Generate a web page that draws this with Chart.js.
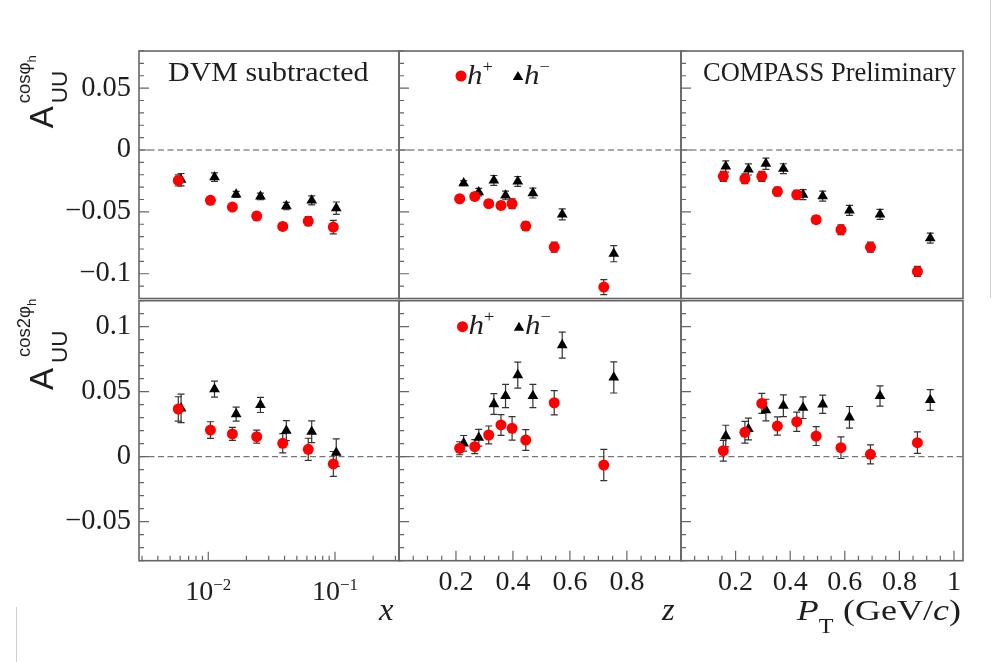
<!DOCTYPE html>
<html><head><meta charset="utf-8">
<script src="https://cdn.jsdelivr.net/npm/chart.js@4.4.1/dist/chart.umd.min.js"></script>
<style>
html,body{margin:0;padding:0;background:#fff;}
#wrap{position:relative;width:992px;height:662px;overflow:hidden;background:#fff;}
#wrap canvas{position:absolute;left:0;top:0;}
.deco{position:absolute;background:#cfcfcf;width:1px;}
</style></head><body>
<div id="wrap">
<div class="deco" style="left:990px;top:0px;height:298px;"></div>
<div class="deco" style="left:16px;top:607px;height:55px;"></div>
<canvas id="c0" width="992" height="662"></canvas>
<canvas id="c1" width="992" height="662"></canvas>
<canvas id="c2" width="992" height="662"></canvas>
<canvas id="c3" width="992" height="662"></canvas>
<canvas id="c4" width="992" height="662"></canvas>
<canvas id="c5" width="992" height="662"></canvas>
</div>
<script>
// ---------------- tick labels ----------------
const yTicksTop = [-0.1, -0.05, 0, 0.05];
const yTicksBottom = [-0.05, 0, 0.05, 0.1];
const xTicks = [0.01, 0.1];
const zTicks = [0.2, 0.4, 0.6, 0.8];
const ptTicks = [0.2, 0.4, 0.6, 0.8, 1];

// ---------------- bin centres ----------------
const xHp = [0.0058, 0.0104, 0.0155, 0.0241, 0.0387, 0.0615, 0.097];
const xHm = [0.0061, 0.0112, 0.0166, 0.0258, 0.0413, 0.0655, 0.1023];
const zHp = [0.213, 0.266, 0.315, 0.358, 0.397, 0.445, 0.545, 0.719];
const zHm = [0.227, 0.280, 0.333, 0.374, 0.417, 0.470, 0.573, 0.754];
const ptHp = [0.155, 0.234, 0.296, 0.353, 0.424, 0.495, 0.586, 0.694, 0.866];
const ptHm = [0.164, 0.247, 0.311, 0.375, 0.447, 0.519, 0.617, 0.729, 0.913];

// ---------------- A_UU^{cos phi_h} ----------------
const cosPhiX_hp     = [-0.0246, -0.0407, -0.0461, -0.0534, -0.0618, -0.0575, -0.0623];
const cosPhiX_hpErr  = [0.0045, 0.002, 0.002, 0.003, 0.003, 0.0036, 0.0055];
const cosPhiX_hm     = [-0.024, -0.0219, -0.0359, -0.0375, -0.0453, -0.0407, -0.047];
const cosPhiX_hmErr  = [0.005, 0.0034, 0.0024, 0.0027, 0.003, 0.0036, 0.005];
const cosPhiZ_hp     = [-0.0394, -0.0375, -0.0434, -0.0448, -0.0434, -0.0615, -0.0785, -0.1108];
const cosPhiZ_hpErr  = [0.002, 0.003, 0.003, 0.003, 0.004, 0.0035, 0.004, 0.006];
const cosPhiZ_hm     = [-0.0268, -0.034, -0.0246, -0.0367, -0.0254, -0.0348, -0.052, -0.0838];
const cosPhiZ_hmErr  = [0.002, 0.003, 0.004, 0.0035, 0.004, 0.004, 0.0045, 0.0065];
const cosPhiPt_hp    = [-0.0213, -0.0232, -0.0213, -0.0335, -0.0361, -0.0563, -0.0644, -0.0785, -0.0981];
const cosPhiPt_hpErr = [0.004, 0.004, 0.004, 0.0035, 0.0035, 0.003, 0.004, 0.004, 0.004];
const cosPhiPt_hm    = [-0.0133, -0.0157, -0.0111, -0.0151, -0.0361, -0.0373, -0.0488, -0.052, -0.0712];
const cosPhiPt_hmErr = [0.0045, 0.0045, 0.0045, 0.004, 0.004, 0.004, 0.004, 0.004, 0.004];

// ---------------- A_UU^{cos 2phi_h} ----------------
const cos2PhiX_hp     = [0.0367, 0.0205, 0.0175, 0.0154, 0.0103, 0.0057, -0.0056];
const cos2PhiX_hpErr  = [0.0094, 0.0064, 0.005, 0.005, 0.0074, 0.0085, 0.0096];
const cos2PhiX_hm     = [0.0372, 0.052, 0.0328, 0.0398, 0.020, 0.0192, 0.0031];
const cos2PhiX_hmErr  = [0.011, 0.0062, 0.0054, 0.0058, 0.0077, 0.0083, 0.0106];
const cos2PhiZ_hp     = [0.0065, 0.0077, 0.0167, 0.0244, 0.0218, 0.0128, 0.0415, -0.0064];
const cos2PhiZ_hpErr  = [0.005, 0.0054, 0.0069, 0.008, 0.009, 0.008, 0.0094, 0.012];
const cos2PhiZ_hm     = [0.0103, 0.0146, 0.0405, 0.0467, 0.0628, 0.0467, 0.0859, 0.061];
const cos2PhiZ_hmErr  = [0.006, 0.0064, 0.008, 0.009, 0.010, 0.009, 0.010, 0.012];
const cos2PhiPt_hp    = [0.0046, 0.0188, 0.041, 0.0236, 0.0269, 0.0159, 0.0069, 0.0018, 0.0108];
const cos2PhiPt_hpErr = [0.008, 0.0083, 0.0077, 0.007, 0.0074, 0.0073, 0.0083, 0.0073, 0.0083];
const cos2PhiPt_hm    = [0.0159, 0.0213, 0.0359, 0.0392, 0.0377, 0.0403, 0.0303, 0.0467, 0.0436];
const cos2PhiPt_hmErr = [0.0083, 0.0083, 0.0083, 0.0083, 0.0083, 0.007, 0.0083, 0.0078, 0.008];

// ---------------- layout (pixels) ----------------
const COLS = [{l:139, r:399}, {l:399, r:681}, {l:681, r:963}];
const ROWS = [{t:51, b:298.5}, {t:300.7, b:560.7}];
const SERIF = '"Liberation Serif", "Times New Roman", serif';
const SANS = '"Liberation Sans", Arial, sans-serif';
const INK = '#1e1e1e';

const XAXES = [
  {type:'logarithmic', min:0.00284, max:0.32, ticks:xTicks, minor:'log'},
  {type:'linear', min:0.0, max:0.99, ticks:zTicks, minor:0.05},
  {type:'linear', min:0.0, max:1.033, ticks:ptTicks, minor:0.05}
];
const YAXES = [
  {min:-0.12, max:0.08, ticks:yTicksTop},
  {min:-0.08, max:0.12, ticks:yTicksBottom}
];

const panels = [
  {row:0,col:0, hpX:xHp, hmX:xHm, hp:cosPhiX_hp, hpE:cosPhiX_hpErr, hm:cosPhiX_hm, hmE:cosPhiX_hmErr},
  {row:0,col:1, hpX:zHp, hmX:zHm, hp:cosPhiZ_hp, hpE:cosPhiZ_hpErr, hm:cosPhiZ_hm, hmE:cosPhiZ_hmErr},
  {row:0,col:2, hpX:ptHp, hmX:ptHm, hp:cosPhiPt_hp, hpE:cosPhiPt_hpErr, hm:cosPhiPt_hm, hmE:cosPhiPt_hmErr},
  {row:1,col:0, hpX:xHp, hmX:xHm, hp:cos2PhiX_hp, hpE:cos2PhiX_hpErr, hm:cos2PhiX_hm, hmE:cos2PhiX_hmErr},
  {row:1,col:1, hpX:zHp, hmX:zHm, hp:cos2PhiZ_hp, hpE:cos2PhiZ_hpErr, hm:cos2PhiZ_hm, hmE:cos2PhiZ_hmErr},
  {row:1,col:2, hpX:ptHp, hmX:ptHm, hp:cos2PhiPt_hp, hpE:cos2PhiPt_hpErr, hm:cos2PhiPt_hm, hmE:cos2PhiPt_hmErr}
];

function minus(v){ return v < 0 ? '\u2212' + String(-v) : String(v); }

// draw a run of text parts; sx = horizontal stretch
function drawRich(ctx, parts, x, y, align, sx) {
  sx = sx || 1;
  let w = 0;
  parts.forEach(p => { ctx.font = p.font; p.w = ctx.measureText(p.t).width; w += p.w + (p.gap||0); });
  w *= sx;
  let x0 = align === 'center' ? x - w/2 : (align === 'right' ? x - w : x);
  ctx.save();
  ctx.translate(x0, y); ctx.scale(sx, 1);
  ctx.textAlign = 'left';
  let cx = 0;
  parts.forEach(p => { ctx.font = p.font; ctx.fillText(p.t, cx, (p.dy||0)); cx += p.w + (p.gap||0); });
  ctx.restore();
}

function drawTriangle(ctx, x, y, r) {
  ctx.beginPath();
  ctx.moveTo(x, y - r);
  ctx.lineTo(x + 0.866*r, y + 0.5*r);
  ctx.lineTo(x - 0.866*r, y + 0.5*r);
  ctx.closePath(); ctx.fill();
}

function drawLegend(ctx, cy, xc, xt) {
  ctx.fillStyle = '#ff0000';
  ctx.beginPath(); ctx.arc(xc, cy, 5.5, 0, Math.PI*2); ctx.fill();
  ctx.fillStyle = INK; ctx.textBaseline = 'alphabetic';
  drawRich(ctx, [{t:'h', font:'italic 27px '+SERIF}, {t:'+', font:'16px '+SERIF, dy:-12, gap:0}], xc+6, cy+7.5, 'left', 1.15);
  ctx.fillStyle = '#000';
  drawTriangle(ctx, xt, cy+1, 6);
  ctx.fillStyle = INK;
  drawRich(ctx, [{t:'h', font:'italic 27px '+SERIF}, {t:'\u2212', font:'16px '+SERIF, dy:-12}], xt+6, cy+7.5, 'left', 1.15);
}

function drawYTitle(ctx, startY, supText, uuOff, supOff) {
  ctx.save();
  ctx.beginPath(); ctx.rect(17, 0, 110, 662); ctx.clip();
  ctx.translate(53, startY); ctx.rotate(-Math.PI/2);
  ctx.fillStyle = INK; ctx.textAlign = 'left'; ctx.textBaseline = 'alphabetic';
  ctx.font = '33px ' + SANS; ctx.fillText('A', 0, 0);
  ctx.font = '22.5px ' + SANS; ctx.fillText('UU', uuOff, 14);
  ctx.font = '18.5px ' + SANS;
  ctx.fillText(supText, supOff, -23);
  const w = ctx.measureText(supText).width;
  ctx.font = '13px ' + SANS; ctx.fillText('h', supOff + w, -17);
  ctx.restore();
}

const deco = {
  id: 'panelDeco',
  beforeDatasetsDraw(chart) {
    const ctx = chart.ctx, a = chart.chartArea, xs = chart.scales.x, ys = chart.scales.y;
    ctx.save();
    // dashed zero line
    const y0 = ys.getPixelForValue(0);
    ctx.strokeStyle = '#555'; ctx.lineWidth = 1; ctx.setLineDash([6, 3.5]);
    ctx.beginPath(); ctx.moveTo(a.left, y0); ctx.lineTo(a.right, y0); ctx.stroke();
    ctx.setLineDash([]);
    // error bars
    ctx.strokeStyle = '#333'; ctx.lineWidth = 1.2;
    chart.data.datasets.forEach(ds => {
      ds.data.forEach((pt, i) => {
        const e = ds.errors[i];
        const px = xs.getPixelForValue(pt.x);
        const yt = ys.getPixelForValue(pt.y + e), yb = ys.getPixelForValue(pt.y - e);
        ctx.beginPath();
        ctx.moveTo(px, yt); ctx.lineTo(px, yb);
        ctx.moveTo(px - 3.5, yt); ctx.lineTo(px + 3.5, yt);
        ctx.moveTo(px - 3.5, yb); ctx.lineTo(px + 3.5, yb);
        ctx.stroke();
      });
    });
    ctx.restore();
  },
  afterDraw(chart) {
    const p = chart.config._config.panel;
    const ctx = chart.ctx, a = chart.chartArea, xs = chart.scales.x, ys = chart.scales.y;
    const XA = XAXES[p.col], YA = YAXES[p.row];
    ctx.save();
    ctx.strokeStyle = '#666'; ctx.lineWidth = 1.2;
    // y ticks (inside)
    ctx.beginPath();
    for (let k = Math.ceil(YA.min*100 - 1e-6); k <= Math.floor(YA.max*100 + 1e-6); k++) {
      const v = k/100, py = ys.getPixelForValue(v);
      const len = (k % 5 === 0) ? 10 : 5;
      ctx.moveTo(a.left, py); ctx.lineTo(a.left + len, py);
    }
    // x ticks (bottom row only)
    if (p.row === 1) {
      if (XA.minor === 'log') {
        [0.001, 0.01, 0.1].forEach(d => {
          for (let m = 1; m <= 9; m++) {
            const v = m*d; if (v < XA.min || v > XA.max) continue;
            const px = xs.getPixelForValue(v), len = m === 1 ? 9 : 5;
            ctx.moveTo(px, a.bottom); ctx.lineTo(px, a.bottom - len);
          }
        });
      } else {
        for (let k = 0; k*XA.minor <= XA.max + 1e-9; k++) {
          const v = +(k*XA.minor).toFixed(4); if (v < XA.min) continue;
          const px = xs.getPixelForValue(v);
          const major = XA.ticks.some(t => Math.abs(t - v) < 1e-6) || Math.abs(v) < 1e-9;
          const len = major ? 10 : 5;
          ctx.moveTo(px, a.bottom); ctx.lineTo(px, a.bottom - len);
        }
      }
    }
    ctx.stroke();
    // frame
    ctx.lineWidth = 1.6; ctx.strokeStyle = '#666';
    ctx.strokeRect(a.left, a.top, a.right - a.left, a.bottom - a.top);
    ctx.fillStyle = INK; ctx.textBaseline = 'alphabetic';
    // log tick labels
    if (p.row === 1 && XA.minor === 'log') {
      XA.ticks.forEach(v => {
        const px = xs.getPixelForValue(v);
        const ex = Math.round(Math.log10(v));
        drawRich(ctx, [{t:'10', font:'28px '+SERIF}, {t:minus(ex), font:'17px '+SERIF, dy:-10}], px, 600, 'center');
      });
    }
    // annotations
    if (p.row === 0 && p.col === 0) {
      drawRich(ctx, [{t:'DVM subtracted', font:'28px '+SERIF}], 168, 81, 'left', 1.07);
      drawYTitle(ctx, 128.3, 'cos\u03C6', 25, 25);
    }
    if (p.row === 0 && p.col === 2) {
      drawRich(ctx, [{t:'COMPASS Preliminary', font:'26.5px '+SERIF}], 703, 81, 'left', 1.0);
    }
    if (p.col === 1) {
      if (p.row === 0) drawLegend(ctx, 76, 461, 518);
      else drawLegend(ctx, 326.7, 462.5, 519);
    }
    if (p.row === 1) {
      if (p.col === 0) {
        drawYTitle(ctx, 390, 'cos2\u03C6', 27, 33);
        drawRich(ctx, [{t:'x', font:'italic 31px '+SERIF}], 379, 620, 'left', 1.05);
      }
      if (p.col === 1) {
        drawRich(ctx, [{t:'z', font:'italic 31px '+SERIF}], 662, 620, 'left', 1.05);
      }
      if (p.col === 2) {
        drawRich(ctx, [
          {t:'P', font:'italic 30px '+SERIF},
          {t:'T', font:'20px '+SERIF, dy:13, gap:8},
          {t:'(GeV/', font:'30px '+SERIF},
          {t:'c', font:'italic 30px '+SERIF},
          {t:')', font:'30px '+SERIF}
        ], 961, 620, 'right', 1.2);
      }
    }
    ctx.restore();
  }
};

const YW = 80, XH = 70;
panels.forEach((p, idx) => {
  const col = COLS[p.col], row = ROWS[p.row];
  const XA = XAXES[p.col], YA = YAXES[p.row];
  const cfg = {
    type: 'scatter',
    panel: p,
    data: { datasets: [
      { label: 'h+', data: p.hpX.map((x, i) => ({x: x, y: p.hp[i]})), errors: p.hpE,
        pointStyle: 'circle', pointRadius: 5.5, pointBackgroundColor: '#ff0000', pointBorderColor: '#ff0000', pointBorderWidth: 0, showLine: false },
      { label: 'h\u2212', data: p.hmX.map((x, i) => ({x: x, y: p.hm[i]})), errors: p.hmE,
        pointStyle: 'triangle', pointRadius: 6.2, pointBackgroundColor: '#000000', pointBorderColor: '#000000', pointBorderWidth: 0, showLine: false }
    ]},
    options: {
      responsive: false, animation: false, events: [],
      layout: { padding: { left: col.l - YW, right: 992 - col.r, top: row.t, bottom: 662 - row.b - XH } },
      plugins: { legend: {display: false}, tooltip: {enabled: false} },
      scales: {
        x: {
          type: XA.type, min: XA.min, max: XA.max, position: 'bottom',
          grid: {display: false, drawTicks: false}, border: {display: false},
          afterBuildTicks: s => { s.ticks = XA.ticks.map(v => ({value: v})); },
          afterFit: s => { s.height = XH; },
          ticks: { display: p.row === 1 && XA.type === 'linear', autoSkip: false, maxRotation: 0, minRotation: 0,
                   padding: 5, font: {family: SERIF, size: 28}, color: INK, callback: v => String(v) }
        },
        y: {
          type: 'linear', min: YA.min, max: YA.max, position: 'left',
          grid: {display: false, drawTicks: false}, border: {display: false},
          afterBuildTicks: s => { s.ticks = YA.ticks.map(v => ({value: v})); },
          afterFit: s => { s.width = YW; },
          ticks: { display: p.col === 0, autoSkip: false, padding: 8, font: {family: SERIF, size: 28.5}, color: INK, callback: v => minus(v) }
        }
      }
    },
    plugins: [deco]
  };
  new Chart(document.getElementById('c' + idx), cfg);
});
</script>
</body></html>
